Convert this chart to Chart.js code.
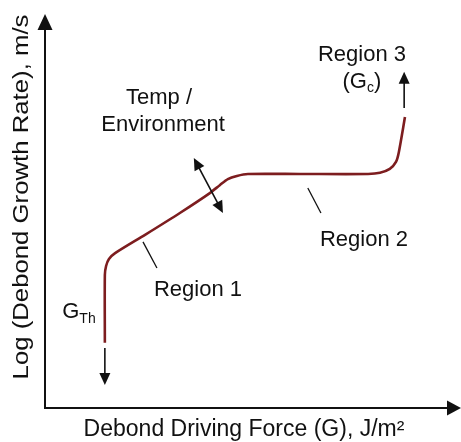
<!DOCTYPE html>
<html>
<head>
<meta charset="utf-8">
<script src="https://cdn.jsdelivr.net/npm/chart.js@4/dist/chart.umd.min.js"></script>
<style>
  html, body { margin: 0; padding: 0; background: #fff; }
  #wrap { width: 461px; height: 442px; }
</style>
</head>
<body>
<div id="wrap"><canvas id="crack-chart" width="461" height="442"></canvas></div>
<script>
// schematic debond growth curve (arbitrary units, 0-100 on both axes)
var curveG = [14.6, 14.6, 14.9, 15.6, 17.1, 24.4, 32.9, 40.2, 42.7, 44.6, 46.8, 49.5, 62.2, 78.8, 81.7, 84.1, 85.6, 86.3, 87.8];
var curveRate = [16.7, 34.1, 36.4, 38.2, 39.7, 44.4, 50.0, 55.1, 57.2, 58.7, 59.5, 60.0, 60.0, 60.0, 60.3, 61.3, 63.1, 65.6, 74.6];

// annotation text and where it sits (data units)
var labelText = ["Region 3", "Temp /", "Environment", "Region 2", "Region 1"];
var labelG = [77.3, 27.8, 28.8, 77.8, 37.3];
var labelRate = [90.5, 79.5, 72.6, 43.1, 30.3];

// leader lines [g1, r1, g2, r2]
var leaders = [[23.9, 42.6, 27.3, 35.9], [64.1, 56.4, 67.3, 50.0]];
// arrows [g1, r1, g2, r2, doubleHeaded]
var arrows = [[36.3, 64.1, 43.4, 50.0, true], [87.6, 76.9, 87.6, 86.2, false], [14.6, 15.4, 14.6, 5.9, false]];

var xTitle = "Debond Driving Force (G), J/m²";
var yTitle = "Log (Debond Growth Rate), m/s";

var FONT = "Liberation Sans, Arial, Helvetica, sans-serif";

function arrowHead(ctx, x1, y1, x2, y2, len, half) {
  var a = Math.atan2(y2 - y1, x2 - x1);
  ctx.beginPath();
  ctx.moveTo(x2, y2);
  ctx.lineTo(x2 - len * Math.cos(a) + half * Math.sin(a), y2 - len * Math.sin(a) - half * Math.cos(a));
  ctx.lineTo(x2 - len * Math.cos(a) - half * Math.sin(a), y2 - len * Math.sin(a) + half * Math.cos(a));
  ctx.closePath();
  ctx.fill();
}

var sketchPlugin = {
  id: 'sketch',
  afterDraw: function(chart) {
    var ctx = chart.ctx;
    var xs = chart.scales.x, ys = chart.scales.y;
    var area = chart.chartArea;
    ctx.save();
    ctx.strokeStyle = '#111';
    ctx.fillStyle = '#111';

    // axes with arrow heads
    ctx.lineWidth = 2;
    ctx.beginPath();
    ctx.moveTo(area.left, 28);
    ctx.lineTo(area.left, area.bottom);
    ctx.lineTo(447, area.bottom);
    ctx.stroke();
    arrowHead(ctx, area.left, area.bottom, area.left, 14, 16, 7.5);
    arrowHead(ctx, area.left, area.bottom, 461, area.bottom, 14, 7.5);

    // leader lines
    ctx.lineWidth = 1.3;
    leaders.forEach(function(l) {
      ctx.beginPath();
      ctx.moveTo(xs.getPixelForValue(l[0]), ys.getPixelForValue(l[1]));
      ctx.lineTo(xs.getPixelForValue(l[2]), ys.getPixelForValue(l[3]));
      ctx.stroke();
    });

    // arrows
    ctx.lineWidth = 1.6;
    arrows.forEach(function(a) {
      var x1 = xs.getPixelForValue(a[0]), y1 = ys.getPixelForValue(a[1]);
      var x2 = xs.getPixelForValue(a[2]), y2 = ys.getPixelForValue(a[3]);
      var ang = Math.atan2(y2 - y1, x2 - x1);
      var sx = a[4] ? x1 + 8 * Math.cos(ang) : x1, sy = a[4] ? y1 + 8 * Math.sin(ang) : y1;
      ctx.beginPath();
      ctx.moveTo(sx, sy);
      ctx.lineTo(x2 - 8 * Math.cos(ang), y2 - 8 * Math.sin(ang));
      ctx.stroke();
      arrowHead(ctx, x1, y1, x2, y2, 12, 5.5);
      if (a[4]) arrowHead(ctx, x2, y2, x1, y1, 12, 5.5);
    });

    // labels
    ctx.textAlign = 'center';
    ctx.textBaseline = 'middle';
    ctx.font = '22px ' + FONT;
    for (var i = 0; i < labelText.length; i++) {
      ctx.fillText(labelText[i], xs.getPixelForValue(labelG[i]), ys.getPixelForValue(labelRate[i]));
    }

    // (Gc) with subscript
    var gx = xs.getPixelForValue(77.3), gy = ys.getPixelForValue(83.6);
    ctx.textAlign = 'left';
    var w1 = ctx.measureText('(G').width, w3 = ctx.measureText(')').width;
    ctx.font = '14px ' + FONT;
    var w2 = ctx.measureText('c').width;
    var left = gx - (w1 + w2 + w3) / 2;
    ctx.font = '22px ' + FONT;
    ctx.fillText('(G', left, gy);
    ctx.fillText(')', left + w1 + w2, gy);
    ctx.font = '14px ' + FONT;
    ctx.fillText('c', left + w1, gy + 6);

    // G_Th
    var tx = xs.getPixelForValue(4.2), ty = ys.getPixelForValue(24.6);
    ctx.font = '22px ' + FONT;
    ctx.fillText('G', tx, ty);
    var gw = ctx.measureText('G').width;
    ctx.font = '14px ' + FONT;
    ctx.fillText('Th', tx + gw, ty + 7);

    // axis titles
    ctx.textAlign = 'center';
    ctx.font = '23px ' + FONT;
    ctx.fillText(xTitle, 244, 430);
    ctx.translate(22, 197);
    ctx.rotate(-Math.PI / 2);
    ctx.font = '22px ' + FONT;
    ctx.scale(1.17, 1);
    ctx.fillText(yTitle, 0, 0);
    ctx.restore();
  }
};

new Chart(document.getElementById("crack-chart"), {
  type: 'scatter',
  data: {
    datasets: [{
      label: "Debond growth rate",
      data: curveG.map(function(g, i) { return { x: g, y: curveRate[i] }; }),
      showLine: true,
      borderColor: '#7d1d1f',
      borderWidth: 2.6,
      pointRadius: 0,
      tension: 0.25,
      borderCapStyle: 'butt',
      borderJoinStyle: 'round'
    }]
  },
  options: {
    responsive: false,
    animation: false,
    layout: { padding: { left: 45, right: 6, top: 18, bottom: 34 } },
    plugins: {
      legend: { display: false },
      tooltip: { enabled: false }
    },
    scales: {
      x: { type: 'linear', min: 0, max: 100, display: false },
      y: { type: 'linear', min: 0, max: 100, display: false }
    }
  },
  plugins: [sketchPlugin]
});
</script>
</body>
</html>
